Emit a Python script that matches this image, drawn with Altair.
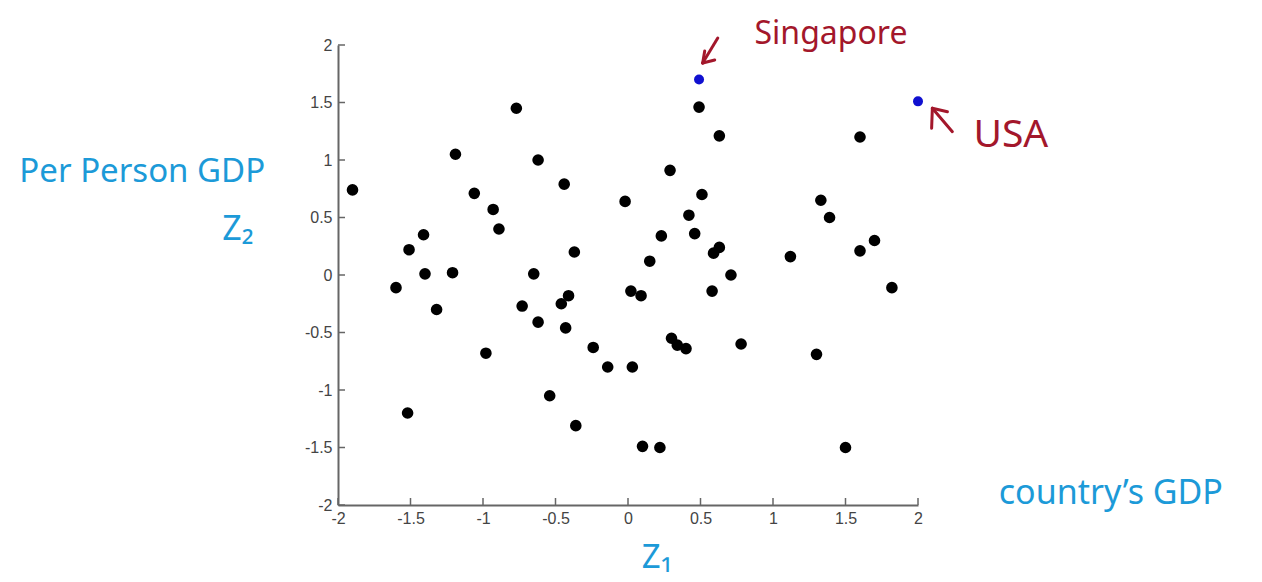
import altair as alt
import pandas as pd

# --- data ---
z1 = [-1.90, -1.19, -0.77, -0.62, -0.44, -1.06, -0.93, -0.89, -1.41, -1.51,
      -0.37, -1.40, -1.21, -0.65, -0.02, -1.60, -1.32, -0.73, -0.62, -0.46,
      -0.41, -0.43, -0.98, -0.24, -0.14, -0.54, -0.36, -1.52, 0.02, 0.09,
      0.03, 0.10, 0.22, 1.50, 0.30, 0.34, 0.40, 0.78, 1.30, 0.58,
      1.82, 0.49, 0.63, 1.60, 0.29, 0.51, 1.33, 0.42, 1.39, 0.23,
      0.46, 0.15, 0.59, 0.63, 1.12, 1.60, 1.70, 0.71]
z2 = [0.74, 1.05, 1.45, 1.00, 0.79, 0.71, 0.57, 0.40, 0.35, 0.22,
      0.20, 0.01, 0.02, 0.01, 0.64, -0.11, -0.30, -0.27, -0.41, -0.25,
      -0.18, -0.46, -0.68, -0.63, -0.80, -1.05, -1.31, -1.20, -0.14, -0.18,
      -0.80, -1.49, -1.50, -1.50, -0.55, -0.61, -0.64, -0.60, -0.69, -0.14,
      -0.11, 1.46, 1.21, 1.20, 0.91, 0.70, 0.65, 0.52, 0.50, 0.34,
      0.36, 0.12, 0.19, 0.24, 0.16, 0.21, 0.30, 0.00]

hl_names = ["Singapore", "USA"]
hl_z1 = [0.49, 2.00]
hl_z2 = [1.70, 1.51]

tick_values = [-2, -1.5, -1, -0.5, 0, 0.5, 1, 1.5, 2]

# annotation arrows (hand-drawn style), segments in data units
arrow_x = [0.619, 0.515, 0.515, 2.237, 2.099, 2.099]
arrow_y = [2.061, 1.843, 1.843, 1.246, 1.450, 1.450]
arrow_x2 = [0.515, 0.529, 0.598, 2.099, 2.094, 2.203]
arrow_y2 = [1.843, 1.948, 1.870, 1.450, 1.276, 1.420]

red_labels = ["Singapore", "USA"]
red_x = [1.40, 2.64]
red_y = [2.10, 1.22]
red_size = [32, 39]

blue_labels = ["Per Person GDP", "Z₂", "Z₁", "country’s GDP"]
blue_x = [-3.35, -2.69, 0.20, 3.33]
blue_y = [0.90, 0.39, -2.46, -1.90]
blue_size = [33, 34, 33, 34]

# --- tables ---
pts = pd.DataFrame({"z1": z1, "z2": z2})
hl = pd.DataFrame({"name": hl_names, "z1": hl_z1, "z2": hl_z2})
ticks = pd.DataFrame({"v": tick_values})
arrows = pd.DataFrame({"x": arrow_x, "y": arrow_y, "x2": arrow_x2, "y2": arrow_y2})
reds = pd.DataFrame({"t": red_labels, "x": red_x, "y": red_y, "s": red_size})
blues = pd.DataFrame({"t": blue_labels, "x": blue_x, "y": blue_y, "s": blue_size})

xs = alt.Scale(domain=[-2, 2], nice=False, zero=False)
ys = alt.Scale(domain=[-2, 2], nice=False, zero=False)

label_expr = "datum.value < 0 ? '-' + format(-datum.value, '~g') : format(datum.value, '~g')"

axis_common = dict(
    values=tick_values, grid=False, tickSize=0, domainColor="#666666",
    domainWidth=2, labelFont="Liberation Sans", labelFontSize=16,
    labelColor="#444444", labelOverlap=False, labelFlush=False, title=None,
    labelExpr=label_expr,
)

scatter = alt.Chart(pts).mark_circle(size=135, color="black", opacity=1).encode(
    x=alt.X("z1:Q", scale=xs, axis=alt.Axis(labelPadding=5, **axis_common)),
    y=alt.Y("z2:Q", scale=ys, axis=alt.Axis(labelPadding=6, **axis_common)),
)

highlight = alt.Chart(hl).mark_circle(size=100, color="#1010d0", opacity=1).encode(
    x=alt.X("z1:Q", scale=xs), y=alt.Y("z2:Q", scale=ys)
)

xticks = alt.Chart(ticks).mark_rule(color="#666666", strokeWidth=1.5).encode(
    x=alt.X("v:Q", scale=xs), y=alt.value(460), y2=alt.value(453)
)
yticks = alt.Chart(ticks).mark_rule(color="#666666", strokeWidth=1.5).encode(
    y=alt.Y("v:Q", scale=ys), x=alt.value(0), x2=alt.value(7)
)

arrow_marks = alt.Chart(arrows).mark_rule(
    color="#a3172b", strokeWidth=3, strokeCap="round"
).encode(
    x=alt.X("x:Q", scale=xs), y=alt.Y("y:Q", scale=ys),
    x2="x2:Q", y2="y2:Q",
)

red_text = alt.Chart(reds).mark_text(
    color="#a3172b", font="Noto Sans", align="center", baseline="middle"
).encode(
    x=alt.X("x:Q", scale=xs), y=alt.Y("y:Q", scale=ys), text="t:N",
    size=alt.Size("s:Q", scale=None, legend=None),
)

blue_text = alt.Chart(blues).mark_text(
    color="#1c9ad8", font="Noto Sans", align="center", baseline="middle"
).encode(
    x=alt.X("x:Q", scale=xs), y=alt.Y("y:Q", scale=ys), text="t:N",
    size=alt.Size("s:Q", scale=None, legend=None),
)

chart = alt.layer(
    scatter, highlight, xticks, yticks, arrow_marks, red_text, blue_text
).properties(
    width=580, height=460,
    autosize=alt.AutoSizeParams(type="none"),
    padding={"left": 330, "top": 37, "right": 336, "bottom": 72},
).configure_view(stroke=None)

chart.save("out.html", embed_options={"renderer": "svg", "actions": False})
